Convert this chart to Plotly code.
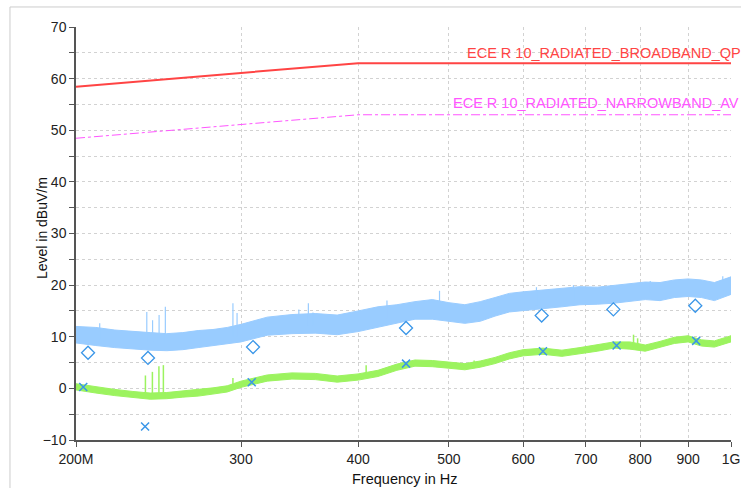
import numpy as np
import plotly.graph_objects as go

# frequency grid (MHz) at which the band envelopes were read
freq_mhz = [200, 210, 220, 230, 240, 250, 260, 270, 280, 290, 300, 320, 340, 360, 380,
            400, 420, 440, 460, 480, 500, 520, 540, 560, 580, 600, 630, 660, 690, 720,
            750, 780, 810, 840, 870, 900, 930, 960, 1000]

# preview peak (blue) envelope, dBuV/m
peak_hi = [12.0, 11.8, 11.3, 11.0, 10.8, 10.6, 10.8, 11.2, 11.4, 11.8, 12.4, 13.8, 14.3, 14.5, 14.2,
           15.0, 15.8, 16.2, 16.8, 17.2, 16.6, 16.2, 16.8, 17.6, 18.4, 18.7, 19.0, 19.3, 19.7, 19.6,
           19.9, 20.2, 20.6, 20.5, 21.0, 21.2, 21.0, 20.5, 21.6]
peak_lo = [8.8, 8.3, 7.9, 7.6, 7.4, 7.3, 7.5, 7.9, 8.2, 8.6, 9.0, 10.3, 10.6, 10.7, 10.4,
           11.0, 11.8, 12.6, 13.4, 13.4, 13.0, 12.6, 13.0, 14.0, 14.8, 15.0, 15.4, 15.8, 16.2, 16.3,
           16.5, 16.8, 17.2, 17.0, 17.6, 17.8, 17.6, 17.0, 18.2]

# preview average (green) envelope
avg_hi = [0.9, 0.3, -0.2, -0.6, -0.9, -0.8, -0.5, -0.3, 0.1, 0.5, 1.4, 2.6, 3.0, 2.9, 2.4,
          2.8, 3.5, 4.7, 5.5, 5.4, 5.1, 4.8, 5.3, 6.0, 6.9, 7.5, 7.8, 7.4, 7.9, 8.4,
          9.0, 9.0, 8.4, 9.1, 9.9, 10.2, 9.4, 9.2, 10.2]
avg_lo = [-0.3, -0.9, -1.4, -1.8, -2.1, -2.0, -1.7, -1.5, -1.1, -0.7, 0.2, 1.4, 1.8, 1.7, 1.2,
          1.6, 2.3, 3.5, 4.3, 4.2, 3.9, 3.6, 4.1, 4.8, 5.7, 6.3, 6.6, 6.2, 6.7, 7.2,
          7.8, 7.6, 7.2, 7.9, 8.7, 9.0, 8.2, 8.0, 9.0]

# narrow spikes on top of the bands
peak_spike_f = [212, 238, 241.4, 245.3, 249.1, 294.1, 297.1, 345.8, 354, 358, 429.4, 488.6, 620, 679, 820, 980]
peak_spike_base = [9.5, 9.0, 9.0, 9.0, 9.0, 10.0, 10.0, 12.0, 12.2, 12.2, 13.5, 14.5, 16.0, 17.0, 18.5, 19.0]
peak_spike_top = [12.6, 14.8, 13.2, 14.2, 15.8, 16.5, 14.6, 15.3, 16.5, 14.7, 17.0, 18.9, 19.6, 20.0, 20.8, 21.7]

avg_spike_f = [237.2, 241.3, 245.2, 247.9, 294.1, 408, 532, 768, 787, 795]
avg_spike_base = [-1.0, -1.0, -1.0, -1.0, 0.2, 2.6, 4.5, 8.0, 8.0, 8.0]
avg_spike_top = [2.5, 3.2, 4.3, 4.5, 2.0, 4.5, 5.4, 8.9, 10.4, 9.7]

# final measurements
qp_f = [206, 238.7, 309, 450, 628, 749, 916]
qp_level = [6.9, 5.9, 8.0, 11.7, 14.1, 15.3, 16.0]
av_f = [203.6, 237, 308, 450, 630, 755, 918]
av_level = [0.25, -7.4, 1.2, 4.8, 7.2, 8.3, 9.2]

# limit lines
limit_f = [200, 400, 1000]
limit_qp = [58.45, 63, 63]
limit_av = [48.45, 53, 53]

tick_f = [200, 300, 400, 500, 600, 700, 800, 900, 1000]
tick_text = ['200M', '300', '400', '500', '600', '700', '800', '900', '1G']

hz = lambda v: [x * 1e6 for x in v]

def band(hi, lo):
    x = hz(freq_mhz) + hz(freq_mhz[::-1])
    y = list(hi) + list(lo[::-1])
    return x, y

def spikes(f, base, top):
    xs, ys = [], []
    for fi, b, t in zip(f, base, top):
        xs += [fi * 1e6, fi * 1e6, None]
        ys += [b, t, None]
    return xs, ys

blue = '#99CCFF'
green = '#9CF35F'
marker_blue = '#3A96E8'

fig = go.Figure()

bx, by = band(peak_hi, peak_lo)
fig.add_trace(go.Scatter(x=bx, y=by, fill='toself', fillcolor=blue, mode='lines',
                         line=dict(color=blue, width=1), hoverinfo='skip'))
sx, sy = spikes(peak_spike_f, peak_spike_base, peak_spike_top)
fig.add_trace(go.Scatter(x=sx, y=sy, mode='lines', line=dict(color=blue, width=1.2)))

gx, gy = band(avg_hi, avg_lo)
fig.add_trace(go.Scatter(x=gx, y=gy, fill='toself', fillcolor=green, mode='lines',
                         line=dict(color=green, width=1), hoverinfo='skip'))
sx, sy = spikes(avg_spike_f, avg_spike_base, avg_spike_top)
fig.add_trace(go.Scatter(x=sx, y=sy, mode='lines', line=dict(color=green, width=1.5)))

fig.add_trace(go.Scatter(x=hz(limit_f), y=limit_qp, mode='lines',
                         line=dict(color='#FF4444', width=2)))
fig.add_trace(go.Scatter(x=hz(limit_f), y=limit_av, mode='lines',
                         line=dict(color='#FF55FF', width=1, dash='dashdot')))

fig.add_trace(go.Scatter(x=hz(qp_f), y=qp_level, mode='markers',
                         marker=dict(symbol='diamond-open', size=10, color=marker_blue,
                                     line=dict(width=1.3, color=marker_blue))))
fig.add_trace(go.Scatter(x=hz(av_f), y=av_level, mode='markers',
                         marker=dict(symbol='x-thin-open', size=8, color=marker_blue,
                                     line=dict(width=1.5, color=marker_blue))))

fig.add_annotation(x=np.log10(520e6), y=65.0, text='ECE R 10_RADIATED_BROADBAND_QP',
                   showarrow=False, xanchor='left', yanchor='middle',
                   font=dict(color='#FF4444', size=14.5))
fig.add_annotation(x=np.log10(503e6), y=55.3, text='ECE R 10_RADIATED_NARROWBAND_AV',
                   showarrow=False, xanchor='left', yanchor='middle',
                   font=dict(color='#FF55FF', size=14.5))

fig.add_annotation(x=0.502, y=-0.0955, xref='paper', yref='paper', text='Frequency in Hz',
                   showarrow=False, xanchor='center', yanchor='middle',
                   font=dict(size=14.5, color='#111'))
fig.add_annotation(x=-0.052, y=0.513, xref='paper', yref='paper', text='Level in dBuV/m',
                   showarrow=False, textangle=-90, xanchor='center', yanchor='middle',
                   font=dict(size=14, color='#111'))

# outer frame of the chart container
fig.add_shape(type='rect', xref='paper', yref='paper', x0=-0.1008, x1=1.3, y0=-0.5, y1=1.0485,
              line=dict(color='#cccccc', width=1), layer='below')

grid = '#d2d2d2'
fig.update_layout(
    width=741, height=488,
    margin=dict(l=76, r=10, t=27, b=48),
    paper_bgcolor='white', plot_bgcolor='white',
    showlegend=False,
    font=dict(family='Liberation Sans, Arial, sans-serif', size=14, color='#222'),
    xaxis=dict(type='log', range=[np.log10(2e8), 9], tickvals=hz(tick_f), ticktext=tick_text,
               showgrid=True, gridcolor=grid, griddash='dot', gridwidth=1,
               showline=True, linecolor='#555', linewidth=1.5, automargin=False,
               ticks='outside', ticklen=5, tickcolor='#555', zeroline=False),
    yaxis=dict(range=[-10, 70], dtick=10, tick0=0, automargin=False,
               showgrid=True, gridcolor=grid, griddash='dot', gridwidth=1,
               showline=True, linecolor='#555', linewidth=1.5,
               ticks='outside', ticklen=5, tickcolor='#555', zeroline=False,
               minor=dict(dtick=5, ticks='outside', ticklen=5, tickcolor='#555',
                          showgrid=True, gridcolor=grid, griddash='dot')),
)

# drop the default page margin so the figure sits at the window's corner
fig.write_html('out.html',
               config={'responsive': False, 'displayModeBar': False},
               default_width='741px', default_height='488px',
               post_script="document.body.style.margin='0';document.body.style.overflow='hidden';")
